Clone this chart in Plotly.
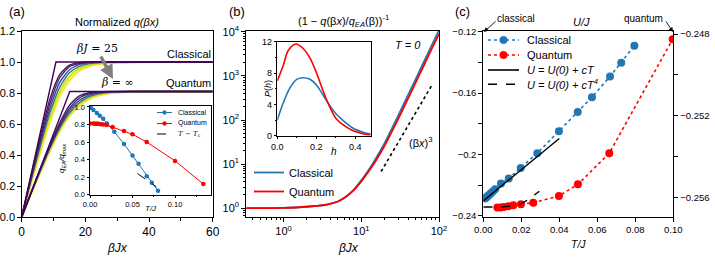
import plotly.graph_objects as go

W, H = 715, 258
FONT = "Liberation Sans, Arial, sans-serif"
SERIF = "DejaVu Serif, Liberation Serif, serif"

# ---------------- Panel (a): normalized q(beta x) ----------------
a_grid = [0, 3, 6, 9, 12, 15, 18, 21, 24, 28, 34, 40, 60]
a_classical_sharp_x = [0, 10.75, 60]
a_classical_sharp_y = [0, 1.0, 1.0]
a_classical_c2 = [0, 0.27, 0.535, 0.77, 0.92, 0.98, 0.996, 1, 1, 1, 1, 1, 1]
a_classical_c3 = [0, 0.26, 0.51, 0.74, 0.90, 0.97, 0.99, 0.998, 1, 1, 1, 1, 1]
a_classical_c4 = [0, 0.25, 0.49, 0.71, 0.87, 0.95, 0.983, 0.995, 0.999, 1, 1, 1, 1]
a_classical_c5 = [0, 0.24, 0.47, 0.68, 0.84, 0.93, 0.97, 0.988, 0.995, 0.999, 1, 1, 1]
a_classical_c6 = [0, 0.23, 0.45, 0.65, 0.81, 0.905, 0.955, 0.978, 0.99, 0.996, 0.999, 1, 1]
a_classical_c7 = [0, 0.22, 0.43, 0.62, 0.78, 0.88, 0.94, 0.97, 0.985, 0.993, 0.997, 0.999, 1]
a_quantum_sharp_x = [0, 15.1, 60]
a_quantum_sharp_y = [0, 0.81, 0.81]
a_quantum_q2 = [0, 0.16, 0.32, 0.47, 0.61, 0.72, 0.78, 0.80, 0.808, 0.81, 0.81, 0.81, 0.81]
a_quantum_q3 = [0, 0.16, 0.315, 0.46, 0.595, 0.70, 0.765, 0.795, 0.805, 0.809, 0.81, 0.81, 0.81]
a_quantum_q4 = [0, 0.158, 0.31, 0.455, 0.585, 0.685, 0.75, 0.785, 0.80, 0.807, 0.81, 0.81, 0.81]
a_quantum_q5 = [0, 0.156, 0.305, 0.45, 0.575, 0.67, 0.735, 0.775, 0.795, 0.805, 0.809, 0.81, 0.81]
a_quantum_q6 = [0, 0.154, 0.30, 0.44, 0.565, 0.66, 0.725, 0.765, 0.788, 0.802, 0.808, 0.81, 0.81]
a_quantum_q7 = [0, 0.152, 0.295, 0.43, 0.555, 0.65, 0.715, 0.757, 0.782, 0.80, 0.807, 0.809, 0.81]
a_colors = ["#440154", "#481467", "#482576", "#414487", "#2a788e", "#d2e21b", "#fde725"]

# inset (a): q_EA / q_max vs T/J
ia_classical_T = [0.001, 0.004, 0.008, 0.0115, 0.0155, 0.02, 0.0286, 0.04, 0.05, 0.0571, 0.0667, 0.0727, 0.08]
ia_classical_q = [0.99, 0.965, 0.93, 0.90, 0.865, 0.81, 0.717, 0.577, 0.445, 0.351, 0.211, 0.136, 0.045]
ia_quantum_T = [0, 0.004, 0.006, 0.008, 0.0092, 0.011, 0.0132, 0.0158, 0.0198, 0.0266, 0.04, 0.05, 0.0667, 0.1, 0.1333]
ia_quantum_q = [0.811, 0.81, 0.809, 0.808, 0.807, 0.805, 0.803, 0.80, 0.793, 0.77, 0.725, 0.687, 0.60, 0.385, 0.121]
ia_tc_T = [0.056, 0.078]
ia_tc_q = [0.24, 0.09]

# ---------------- Panel (b) ----------------
b_x = [0.33, 0.63, 1.0, 1.58, 2.5, 3.6, 5.0, 6.3, 7.9, 10, 12.6, 15.8, 20, 25.1, 31.6, 39.8, 50.1, 63.1, 79.4, 100]
b_classical = [1.0, 1.007, 1.02, 1.05, 1.12, 1.21, 1.42, 1.82, 2.57, 4.27, 7.6, 14.5, 30.2, 67.6, 155, 363, 851, 1995, 4677, 10960]
b_quantum = [1.0, 1.007, 1.02, 1.05, 1.12, 1.21, 1.42, 1.80, 2.51, 4.07, 7.08, 12.9, 26.3, 57.5, 129, 302, 708, 1660, 3890, 8913]
b_power_x = [18, 82]
b_power_y = [6.8, 643]

# inset (b): P(h)
ib_h = [0, 0.031, 0.065, 0.1, 0.134, 0.168, 0.2, 0.23, 0.26, 0.305, 0.35, 0.39, 0.44, 0.48]
ib_classical = [2.0, 4.2, 6.1, 7.2, 7.4, 7.2, 6.5, 5.4, 4.2, 2.7, 1.7, 0.95, 0.45, 0.2]
ib_h_q = [0, 0.031, 0.057, 0.096, 0.134, 0.168, 0.2, 0.23, 0.26, 0.305, 0.35, 0.39, 0.44, 0.48]
ib_quantum = [7.0, 9.0, 10.9, 11.7, 11.1, 9.9, 8.1, 6.1, 4.2, 2.1, 1.2, 0.64, 0.25, 0.09]

# ---------------- Panel (c): U/J vs T/J ----------------
c_classical_T = [0.001, 0.0015, 0.002, 0.0025, 0.0033, 0.004, 0.005, 0.0062, 0.0093, 0.0134, 0.0197, 0.0284, 0.0398, 0.0497, 0.0572, 0.0667, 0.0726, 0.0795]
c_classical_U = [-0.2286, -0.228, -0.2275, -0.2269, -0.226, -0.2252, -0.2241, -0.2226, -0.2189, -0.2156, -0.2087, -0.1991, -0.1848, -0.1722, -0.1626, -0.1491, -0.1402, -0.1291]
c_quantum_T = [0.0074, 0.0092, 0.0109, 0.0132, 0.0158, 0.0198, 0.0263, 0.0398, 0.0498, 0.0663, 0.0997]
c_quantum_U = [-0.25649, -0.25649, -0.25646, -0.25643, -0.25638, -0.25633, -0.25625, -0.25592, -0.25535, -0.25383, -0.24825]
c_lin_T = [0, 0.04]
c_lin_U = [-0.2302, -0.1895]
c_quart_T = [0, 0.01, 0.015, 0.02, 0.025, 0.0295]
c_quart_U = [-0.25646, -0.25645, -0.25641, -0.2563, -0.2560, -0.25569]
c_legend_labels = ["Classical", "Quantum", "<i>U = U(0) + cT</i>", "<i>U = U(0) + cT<sup>4</sup></i>"]

BLUE = "#1f77b4"
RED = "#ff0000"

def px(x):
    return x / W

def py(y):
    return 1 - y / H

fig = go.Figure()

# panel (a) curves (yellow first so purple on top)
cl = [a_classical_c2, a_classical_c3, a_classical_c4, a_classical_c5, a_classical_c6, a_classical_c7]
qu = [a_quantum_q2, a_quantum_q3, a_quantum_q4, a_quantum_q5, a_quantum_q6, a_quantum_q7]
for i in range(5, -1, -1):
    w = 2.0 if i >= 4 else 1.4
    fig.add_trace(go.Scatter(x=a_grid, y=cl[i], mode="lines", line=dict(color=a_colors[i + 1], width=w, shape="spline", smoothing=0.6),
                             xaxis="x", yaxis="y", showlegend=False))
    fig.add_trace(go.Scatter(x=a_grid, y=qu[i], mode="lines", line=dict(color=a_colors[i + 1], width=w, shape="spline", smoothing=0.6),
                             xaxis="x", yaxis="y", showlegend=False))
fig.add_trace(go.Scatter(x=a_classical_sharp_x, y=a_classical_sharp_y, mode="lines", line=dict(color=a_colors[0], width=1.4),
                         xaxis="x", yaxis="y", showlegend=False))
fig.add_trace(go.Scatter(x=a_quantum_sharp_x, y=a_quantum_sharp_y, mode="lines", line=dict(color=a_colors[0], width=1.4),
                         xaxis="x", yaxis="y", showlegend=False))

# inset (a)
fig.add_trace(go.Scatter(x=ia_classical_T, y=ia_classical_q, mode="lines+markers", line=dict(color=BLUE, width=1),
                         marker=dict(size=4.5, color=BLUE), xaxis="x2", yaxis="y2", showlegend=False))
fig.add_trace(go.Scatter(x=ia_quantum_T, y=ia_quantum_q, mode="lines+markers", line=dict(color=RED, width=1),
                         marker=dict(size=4.5, color=RED), xaxis="x2", yaxis="y2", showlegend=False))
fig.add_trace(go.Scatter(x=ia_tc_T, y=ia_tc_q, mode="lines", line=dict(color="black", width=1, dash="dash"),
                         xaxis="x2", yaxis="y2", showlegend=False))

# panel (b)
fig.add_trace(go.Scatter(x=b_x, y=b_classical, mode="lines", name="Classical", line=dict(color=BLUE, width=1.8, shape="spline"),
                         xaxis="x3", yaxis="y3", legend="legend2"))
fig.add_trace(go.Scatter(x=b_x, y=b_quantum, mode="lines", name="Quantum", line=dict(color=RED, width=1.8, shape="spline"),
                         xaxis="x3", yaxis="y3", legend="legend2"))
fig.add_trace(go.Scatter(x=b_power_x, y=b_power_y, mode="lines", line=dict(color="black", width=1.6, dash="dot"),
                         xaxis="x3", yaxis="y3", showlegend=False))
fig.add_trace(go.Scatter(x=ib_h, y=ib_classical, mode="lines", line=dict(color=BLUE, width=1.6, shape="spline"),
                         xaxis="x4", yaxis="y4", showlegend=False))
fig.add_trace(go.Scatter(x=ib_h_q, y=ib_quantum, mode="lines", line=dict(color=RED, width=1.6, shape="spline"),
                         xaxis="x4", yaxis="y4", showlegend=False))

# panel (c)
fig.add_trace(go.Scatter(x=c_classical_T, y=c_classical_U, mode="lines+markers", name=c_legend_labels[0],
                         line=dict(color=BLUE, width=1.6, dash="dot"), marker=dict(size=8, color=BLUE),
                         xaxis="x5", yaxis="y5", showlegend=False))
fig.add_trace(go.Scatter(x=c_quantum_T, y=c_quantum_U, mode="lines+markers", name=c_legend_labels[1],
                         line=dict(color=RED, width=1.6, dash="dot"), marker=dict(size=8, color=RED),
                         xaxis="x5", yaxis="y6", showlegend=False))
fig.add_trace(go.Scatter(x=c_lin_T, y=c_lin_U, mode="lines", name=c_legend_labels[2],
                         line=dict(color="black", width=1.4), xaxis="x5", yaxis="y5", showlegend=False))
fig.add_trace(go.Scatter(x=c_quart_T, y=c_quart_U, mode="lines", name=c_legend_labels[3],
                         line=dict(color="black", width=1.4, dash="dash", shape="spline"), xaxis="x5", yaxis="y6",
                         showlegend=False))

ax_common = dict(showline=True, linecolor="black", linewidth=1, ticks="outside", ticklen=4, tickcolor="black",
                 showgrid=False, zeroline=False, automargin=False,
                 tickfont=dict(family=FONT, size=11, color="black"))

def axis(**kw):
    d = dict(ax_common)
    d.update(kw)
    return d

ydom = [py(217), py(31)]
log_minor_x = [v * m for m in (0.1, 1, 10) for v in range(2, 10)]
log_minor_y = [v * m for m in (0.1, 1, 10, 100, 1000) for v in range(2, 10)]

fig.update_layout(
    width=W, height=H, margin=dict(l=0, r=0, t=0, b=0),
    paper_bgcolor="white", plot_bgcolor="white",
    font=dict(family=FONT, size=11, color="black"),
    xaxis=axis(domain=[px(21.7), px(212.7)], range=[0, 60], tickvals=[0, 20, 40, 60], mirror=True, anchor="y",
               minor=dict(dtick=10, tick0=0, ticks="outside", ticklen=3, tickcolor="black"), tickfont=dict(size=12)),
    yaxis=axis(domain=ydom, range=[0, 1.2], tickvals=[0, 0.2, 0.4, 0.6, 0.8, 1.0, 1.2], tickformat=".1f", mirror=True,
               anchor="x", ticklen=3.5, tickfont=dict(size=11)),
    xaxis2=axis(domain=[px(90), px(210.7)], range=[0, 0.142], tickvals=[0, 0.05, 0.10], tickformat=".2f", anchor="y2",
                mirror=True, ticklen=2.5, tickfont=dict(size=7.5),
                minor=dict(dtick=0.025, tick0=0, ticks="outside", ticklen=1.5, tickcolor="black")),
    yaxis2=axis(domain=[py(194.7), py(106)], range=[0, 1.01], tickvals=[0, 0.2, 0.4, 0.6, 0.8, 1.0], tickformat=".1f",
                anchor="x2", mirror=True, ticklen=2.5, tickfont=dict(size=7.5)),
    xaxis3=axis(domain=[px(246.3), px(439)], type="log", range=[-0.48, 2], tickvals=[1, 10, 100],
                ticktext=["10<sup>0</sup>", "10<sup>1</sup>", "10<sup>2</sup>"], anchor="y3", mirror=True,
                minor=dict(tickvals=log_minor_x, ticks="outside", ticklen=2, tickcolor="black")),
    yaxis3=axis(domain=ydom, type="log", range=[-0.2, 4.02], tickvals=[1, 10, 100, 1000, 10000],
                ticktext=["10<sup>0</sup>", "10<sup>1</sup>", "10<sup>2</sup>", "10<sup>3</sup>", "10<sup>4</sup>"],
                anchor="x3", mirror=True,
                minor=dict(tickvals=log_minor_y, ticks="outside", ticklen=2, tickcolor="black")),
    xaxis4=axis(domain=[px(277.3), px(370.7)], range=[0, 0.48], tickvals=[0, 0.2, 0.4], tickformat=".1f", anchor="y4",
                mirror=True, ticklen=2.5, tickfont=dict(size=9),
                minor=dict(dtick=0.1, tick0=0, ticks="outside", ticklen=1.5, tickcolor="black")),
    yaxis4=axis(domain=[py(135.7), py(41.7)], range=[0, 12], tickvals=[0, 4, 8, 12], anchor="x4", mirror=True,
                ticklen=2.5, tickfont=dict(size=9),
                minor=dict(dtick=2, tick0=0, ticks="outside", ticklen=1.5, tickcolor="black")),
    xaxis5=axis(domain=[px(483.3), px(673.3)], range=[0, 0.1], tickvals=[0, 0.02, 0.04, 0.06, 0.08, 0.10],
                tickformat=".2f", anchor="y5", mirror=True, tickfont=dict(size=9.5)),
    yaxis5=axis(domain=ydom, range=[-0.2407, -0.1195],
                tickvals=[-0.24, -0.22, -0.20, -0.18, -0.16, -0.14, -0.12],
                ticktext=["−0.24", "", "−0.2", "", "−0.16", "", "−0.12"], anchor="x5", tickfont=dict(size=9.5)),
    yaxis6=axis(domain=ydom, range=[-0.25695, -0.24785], overlaying="y5", side="right", anchor="x5",
                tickvals=[-0.256, -0.254, -0.252, -0.250, -0.248],
                ticktext=["−0.256", "", "−0.252", "", "−0.248"], tickfont=dict(size=9.5)),
    legend2=dict(x=px(249), y=py(158), xanchor="left", yanchor="top", bgcolor="rgba(0,0,0,0)",
                 font=dict(family=FONT, size=11), tracegroupgap=0, itemwidth=30),
)

ann = []
def text(x, y, s, size=11, family=FONT, xanchor="center", textangle=0, color="black"):
    ann.append(dict(x=px(x), y=py(y), xref="paper", yref="paper", text=s, showarrow=False, xanchor=xanchor,
                    yanchor="middle", textangle=textangle, font=dict(family=family, size=size, color=color)))

# panel labels
text(17, 12, "(a)", size=13)
text(237, 12, "(b)", size=13)
text(462, 12, "(c)", size=13)
# titles
text(117, 22, "Normalized <i>q(βx)</i>", size=11)
text(343, 21, "(1 − <i>q</i>(β<i>x</i>)/<i>q</i><sub><i>EA</i></sub>(β))<sup>-1</sup>", size=11)
text(581, 22, "<i>U/J</i>", size=11)
# x labels
text(117, 248, "<i>βJx</i>", size=12)
text(348, 248, "<i>βJx</i>", size=12)
text(578, 244, "<i>T/J</i>", size=10.5)
# panel (a) annotations
text(97, 48, "<i>βJ</i> = 25", size=11, family=SERIF)
text(117, 82, "<i>β</i> = ∞", size=11, family=SERIF)
text(213, 54, "Classical", size=11, xanchor="right")
text(213, 83, "Quantum", size=11, xanchor="right")
ann.append(dict(x=px(113), y=py(79), xref="paper", yref="paper", ax=-13, ay=-24, text="", showarrow=True,
                arrowhead=2, arrowsize=0.8, arrowwidth=3.5, arrowcolor="#808080"))
# inset (a) labels
text(62, 158, "<i>q<sub>EA</sub>/q<sub>max</sub></i>", size=8, textangle=-90)
text(151, 208.5, "<i>T/J</i>", size=8)

shapes = []
def legend_block(rows, x0, x1, tx, size, msize):
    for yy, col, dash, mk, label, fam in rows:
        shapes.append(dict(type="line", xref="paper", yref="paper", x0=px(x0), x1=px(x1), y0=py(yy), y1=py(yy),
                           line=dict(color=col, width=1 if size < 9 else 1.6, dash=dash)))
        if mk:
            xc = (x0 + x1) / 2
            shapes.append(dict(type="circle", xref="paper", yref="paper", x0=px(xc - msize / 2), x1=px(xc + msize / 2),
                               y0=py(yy + msize / 2), y1=py(yy - msize / 2), line=dict(color=col, width=0.5),
                               fillcolor=col))
        text(tx, yy, label, size=size, family=fam, xanchor="left")

# inset (a) legend (compact)
shapes.append(dict(type="rect", xref="paper", yref="paper", x0=px(153), x1=px(209.5), y0=py(141), y1=py(107.5),
                   line=dict(color="#cccccc", width=0.8), fillcolor="white", layer="below"))
legend_block([(112.5, BLUE, "solid", True, "Classical", FONT), (123.5, RED, "solid", True, "Quantum", FONT),
              (134, "black", "dash", False, "<i>T</i> ~ <i>T</i><sub>c</sub>", SERIF)], 157, 172, 176, 7, 3.8)
# panel (c) legend (compact)
legend_block([(40, BLUE, "dot", True, c_legend_labels[0], FONT), (55, RED, "dot", True, c_legend_labels[1], FONT),
              (70, "black", "solid", False, c_legend_labels[2], FONT),
              (84.3, "black", "dash", False, c_legend_labels[3], FONT)], 488, 519, 525, 11, 7.5)

# panel (b) annotations
text(408, 45, "<i>T = 0</i>", size=11)
text(420, 142, "(β<i>x</i>)<sup>3</sup>", size=11)
text(334, 151.5, "<i>h</i>", size=10)
text(268, 89, "<i>P</i>(<i>h</i>)", size=9, textangle=-90)
# panel (c) annotations
text(516, 18, "classical", size=10)
text(643, 18, "quantum", size=10)
ann.append(dict(x=px(484), y=py(32), xref="paper", yref="paper", ax=13, ay=-12, text="", showarrow=True,
                arrowhead=2, arrowsize=1, arrowwidth=0.9, arrowcolor="black"))
ann.append(dict(x=px(673), y=py(32), xref="paper", yref="paper", ax=-8, ay=-12, text="", showarrow=True,
                arrowhead=2, arrowsize=1, arrowwidth=0.9, arrowcolor="black"))

fig.update_layout(annotations=ann, shapes=shapes)
fig.write_html("out.html", config={"displayModeBar": False, "staticPlot": True},
               post_script="document.body.style.margin='0';document.body.style.overflow='hidden';")
